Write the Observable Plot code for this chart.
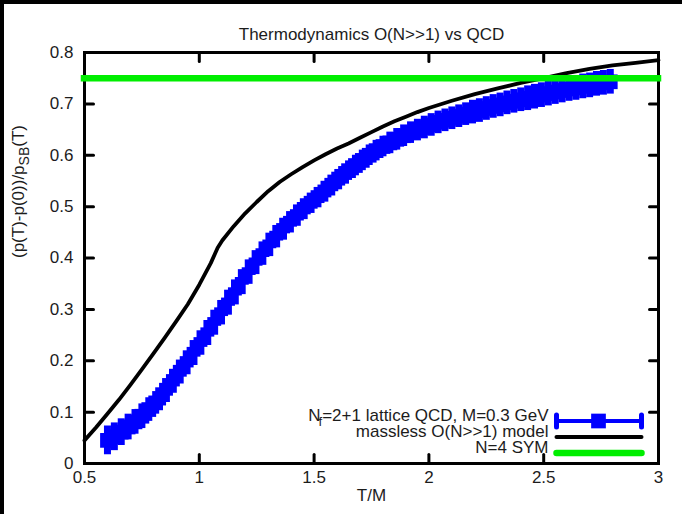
<!DOCTYPE html>
<html>
<head>
<meta charset="utf-8">
<script src="https://cdn.jsdelivr.net/npm/d3@7"></script>
<script src="https://cdn.jsdelivr.net/npm/@observablehq/plot@0.6"></script>
<style>
  html, body { margin: 0; padding: 0; background: #fff; }
  #wrap { position: relative; width: 682px; height: 514px; overflow: hidden; }
  #wrap svg { position: absolute; left: 0; top: 0; }
  .edgeTop { position: absolute; left: 0; top: 0; width: 682px; height: 4px; background: #000; }
  .edgeLeft { position: absolute; left: 0; top: 0; width: 4px; height: 514px; background: #000; }
</style>
</head>
<body>
<div id="wrap"></div>
<script>
// ---- data ----
const titleText = "Thermodynamics O(N>>1) vs QCD";
const xLabel = "T/M";
const yLabel = "(p(T)-p(0))/pSB(T)";
const legendLabels = ["Nf=2+1 lattice QCD, M=0.3 GeV", "massless O(N>>1) model", "N=4 SYM"];

const xTicks = [0.5, 1, 1.5, 2, 2.5, 3];
const xTickLabels = ["0.5", "1", "1.5", "2", "2.5", "3"];
const yTicks = [0, 0.1, 0.2, 0.3, 0.4, 0.5, 0.6, 0.7, 0.8];
const yTickLabels = ["0", "0.1", "0.2", "0.3", "0.4", "0.5", "0.6", "0.7", "0.8"];

// lattice QCD points (T/M, value, error)
const latticeT = [0.60,0.63,0.66,0.69,0.72,0.75,0.78,0.81,0.84,0.87,
  0.90,0.93,0.96,0.99,1.02,1.05,1.08,1.11,1.14,1.17,
  1.20,1.23,1.26,1.29,1.32,1.35,1.38,1.41,1.44,1.47,
  1.50,1.53,1.56,1.59,1.62,1.65,1.68,1.71,1.74,1.77,
  1.80,1.83,1.86,1.89,1.92,1.95,1.98,2.01,2.04,2.07,
  2.10,2.13,2.16,2.19,2.22,2.25,2.28,2.31,2.34,2.37,
  2.40,2.43,2.46,2.49,2.52,2.55,2.58,2.61,2.64,2.67,
  2.70,2.73,2.76,2.79];
const latticeP = [0.045,0.052,0.061,0.071,0.081,0.092,0.105,0.118,0.134,0.152,
  0.170,0.188,0.206,0.226,0.245,0.265,0.285,0.304,0.324,0.344,
  0.364,0.383,0.401,0.418,0.435,0.450,0.464,0.477,0.490,0.502,
  0.513,0.524,0.536,0.548,0.559,0.570,0.580,0.590,0.600,0.609,
  0.617,0.624,0.631,0.638,0.644,0.649,0.654,0.659,0.664,0.668,
  0.672,0.676,0.680,0.684,0.687,0.691,0.695,0.698,0.702,0.705,
  0.708,0.711,0.714,0.717,0.720,0.723,0.726,0.729,0.731,0.734,
  0.736,0.739,0.741,0.743];
const latticeErr = [0.028,0.027,0.026,0.025,0.024,0.024,0.023,0.022,0.022,0.021,
  0.021,0.020,0.020,0.019,0.019,0.019,0.018,0.018,0.018,0.018,
  0.017,0.017,0.017,0.017,0.017,0.017,0.017,0.017,0.018,0.018,
  0.018,0.018,0.019,0.019,0.019,0.019,0.020,0.020,0.020,0.020,
  0.020,0.021,0.021,0.021,0.021,0.021,0.022,0.022,0.022,0.022,
  0.022,0.022,0.022,0.023,0.023,0.023,0.023,0.023,0.023,0.023,
  0.023,0.024,0.024,0.024,0.024,0.024,0.024,0.024,0.024,0.024,
  0.024,0.024,0.024,0.024];

// massless O(N>>1) model curve
const modelT = [0.50,0.55,0.60,0.65,0.70,0.75,0.80,0.85,0.90,0.95,1.00,1.05,1.08,1.10,
  1.15,1.20,1.25,1.30,1.35,1.40,1.45,1.50,1.55,1.60,1.65,1.70,1.75,1.80,1.85,1.90,1.95,
  2.00,2.10,2.20,2.30,2.40,2.50,2.60,2.70,2.80,2.90,3.00];
const modelP = [0.045,0.070,0.097,0.124,0.153,0.183,0.214,0.245,0.277,0.310,0.348,0.390,0.420,0.434,
  0.462,0.487,0.509,0.530,0.548,0.563,0.577,0.590,0.602,0.613,0.623,0.634,0.645,0.656,0.666,0.675,0.684,
  0.692,0.706,0.719,0.730,0.741,0.750,0.760,0.768,0.775,0.780,0.785];

// N=4 SYM level
const symLevel = [0.75];

// ---- build ----
const BLUE = "#0000ff", GREEN = "#00ee00", TXT = "#1c1c1c";
const FONT = "'Liberation Sans', Arial, sans-serif";
const lattice = latticeT.map((t, i) => ({T: t, p: latticeP[i], e: latticeErr[i]}));
const model = modelT.map((t, i) => ({T: t, p: modelP[i]}));

const lineShape = {draw(ctx, l) { ctx.moveTo(0, 0); ctx.lineTo(0, -l); }};
const tickOpts = {length: 9, anchor: "start", shape: lineShape, stroke: "black", strokeWidth: 3};

const plot = Plot.plot({
  width: 682, height: 514,
  marginLeft: 84, marginRight: 24, marginTop: 52, marginBottom: 51,
  x: {domain: [0.5, 3]},
  y: {domain: [0, 0.8]},
  style: {background: "#fff", color: TXT, fontFamily: FONT, fontSize: "17px"},
  marks: [
    Plot.frame({stroke: "black", strokeWidth: 3}),
    Plot.vector(xTicks, {...tickOpts, x: d => d, frameAnchor: "bottom", rotate: 0}),
    Plot.vector(xTicks, {...tickOpts, x: d => d, frameAnchor: "top", rotate: 180}),
    Plot.vector(yTicks, {...tickOpts, y: d => d, frameAnchor: "left", rotate: 90}),
    Plot.vector(yTicks, {...tickOpts, y: d => d, frameAnchor: "right", rotate: -90}),
    Plot.axisX(xTicks, {anchor: "bottom", tickSize: 0, tickPadding: 7, label: null,
      tickFormat: d => xTickLabels[xTicks.indexOf(d)], fontSize: 17}),
    Plot.axisY(yTicks, {anchor: "left", tickSize: 0, tickPadding: 11, label: null,
      tickFormat: d => yTickLabels[yTicks.indexOf(d)], fontSize: 17}),
    // lattice points with error bars
    Plot.ruleX(lattice, {x: "T", y1: d => d.p - d.e, y2: d => d.p + d.e, stroke: BLUE, strokeWidth: 7}),
    Plot.line(lattice, {x: "T", y: "p", stroke: BLUE, strokeWidth: 4}),
    Plot.dot(lattice, {x: "T", y: "p", symbol: "square", r: 8.3, fill: BLUE}),
    // model
    Plot.line(model, {x: "T", y: "p", stroke: "black", strokeWidth: 3.8, strokeLinejoin: "round"}),
    // SYM
    Plot.ruleY(symLevel, {stroke: GREEN, strokeWidth: 6.5, strokeLinecap: "square"}),
    // title and axis labels
    Plot.text([titleText], {frameAnchor: "top", dy: -25, fontSize: 17, fill: TXT}),
    Plot.text([xLabel], {frameAnchor: "bottom", dy: 37, fontSize: 17, fill: TXT}),
    Plot.text([yLabel], {frameAnchor: "left", dx: -66, rotate: -90, fontSize: 17, fill: TXT}),
    // legend
    Plot.text([legendLabels[0]], {frameAnchor: "bottom-right", textAnchor: "end", dx: -110, dy: -43, fontSize: 17, fill: TXT}),
    Plot.text([legendLabels[1]], {frameAnchor: "bottom-right", textAnchor: "end", dx: -110, dy: -27, fontSize: 17, fill: TXT}),
    Plot.text([legendLabels[2]], {frameAnchor: "bottom-right", textAnchor: "end", dx: -110, dy: -11, fontSize: 17, fill: TXT}),
    Plot.vector([legendLabels[0]], {frameAnchor: "bottom-right", dx: -102, dy: -42.5, rotate: 90, length: 85, anchor: "start", shape: lineShape, stroke: BLUE, strokeWidth: 4}),
    Plot.vector([legendLabels[0]], {frameAnchor: "bottom-right", dx: -102, dy: -42.5, rotate: 0, length: 12, anchor: "middle", shape: lineShape, stroke: BLUE, strokeWidth: 5}),
    Plot.vector([legendLabels[0]], {frameAnchor: "bottom-right", dx: -17, dy: -42.5, rotate: 0, length: 12, anchor: "middle", shape: lineShape, stroke: BLUE, strokeWidth: 5}),
    Plot.dot([legendLabels[0]], {frameAnchor: "bottom-right", dx: -60, dy: -42.5, symbol: "square", r: 8.3, fill: BLUE}),
    Plot.vector([legendLabels[1]], {frameAnchor: "bottom-right", dx: -102, dy: -26.5, rotate: 90, length: 85, anchor: "start", shape: lineShape, stroke: "black", strokeWidth: 4}),
    Plot.vector([legendLabels[2]], {frameAnchor: "bottom-right", dx: -102, dy: -10.5, rotate: 90, length: 85, anchor: "start", shape: lineShape, stroke: GREEN, strokeWidth: 6.5})
  ]
});

// subscripts
d3.select(plot).selectAll("text").each(function() {
  const t = d3.select(this);
  const s = this.textContent;
  if (s === yLabel) {
    t.text(null);
    t.append("tspan").text("(p(T)-p(0))/p");
    t.append("tspan").attr("dy", 5).attr("font-size", 14).text("SB");
    t.append("tspan").attr("dy", -5).text("(T)");
  } else if (s === legendLabels[0]) {
    t.text(null);
    t.append("tspan").text("N");
    t.append("tspan").attr("dy", 5).attr("dx", -2).attr("font-size", 13).text("f");
    t.append("tspan").attr("dy", -5).text("=2+1 lattice QCD, M=0.3 GeV");
  }
});

const wrap = document.getElementById("wrap");
wrap.appendChild(plot);
const e1 = document.createElement("div"); e1.className = "edgeTop"; wrap.appendChild(e1);
const e2 = document.createElement("div"); e2.className = "edgeLeft"; wrap.appendChild(e2);
</script>
</body>
</html>
